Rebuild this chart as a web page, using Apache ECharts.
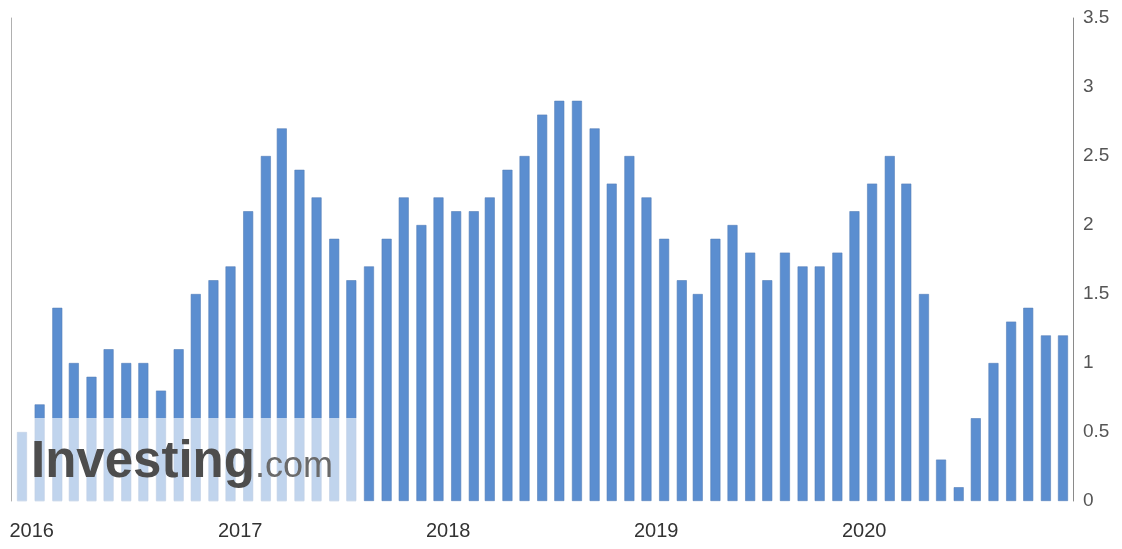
<!DOCTYPE html>
<html>
<head>
<meta charset="utf-8">
<script src="https://cdn.jsdelivr.net/npm/echarts@6/dist/echarts.min.js"></script>
<style>
html,body{margin:0;padding:0;background:#fff;}
#c{width:1122px;height:549px;}
</style>
</head>
<body>
<div id="c"></div>
<script>
// release months (one bar per month)
const months = [
  '2015-12',
  '2016-01','2016-02','2016-03','2016-04','2016-05','2016-06','2016-07','2016-08','2016-09','2016-10','2016-11','2016-12',
  '2017-01','2017-02','2017-03','2017-04','2017-05','2017-06','2017-07','2017-08','2017-09','2017-10','2017-11','2017-12',
  '2018-01','2018-02','2018-03','2018-04','2018-05','2018-06','2018-07','2018-08','2018-09','2018-10','2018-11','2018-12',
  '2019-01','2019-02','2019-03','2019-04','2019-05','2019-06','2019-07','2019-08','2019-09','2019-10','2019-11','2019-12',
  '2020-01','2020-02','2020-03','2020-04','2020-05','2020-06','2020-07','2020-08','2020-09','2020-10','2020-11','2020-12'
];
const values = [
  0.5,
  0.7,1.4,1.0,0.9,1.1,1.0,1.0,0.8,1.1,1.5,1.6,1.7,
  2.1,2.5,2.7,2.4,2.2,1.9,1.6,1.7,1.9,2.2,2.0,2.2,
  2.1,2.1,2.2,2.4,2.5,2.8,2.9,2.9,2.7,2.3,2.5,2.2,
  1.9,1.6,1.5,1.9,2.0,1.8,1.6,1.8,1.7,1.7,1.8,2.1,
  2.3,2.5,2.3,1.5,0.3,0.1,0.6,1.0,1.3,1.4,1.2,1.2
];
const yTicks = [0, 0.5, 1, 1.5, 2, 2.5, 3, 3.5];
const yearLabels = ['2016','2017','2018','2019','2020'];

const seriesData = months.map((m, i) => [m + '-15', values[i]]);

const chart = echarts.init(document.getElementById('c'), null, {renderer: 'canvas'});
chart.setOption({
  animation: false,
  backgroundColor: '#fff',
  grid: {left: 11, right: 49, top: 18, bottom: 48, containLabel: false},
  xAxis: {
    type: 'time',
    min: new Date(2015, 11, 4, 12).getTime(),
    max: new Date(2020, 11, 23, 19).getTime(),
    axisLine: {show: false},
    axisTick: {show: false},
    splitLine: {show: false},
    axisLabel: {
      showMinLabel: false,
      showMaxLabel: false,
      margin: 20,
      color: '#333',
      fontSize: 20,
      fontFamily: 'Liberation Sans, Arial, sans-serif',
      hideOverlap: false,
      formatter: function (val) {
        const d = new Date(val);
        const y = String(d.getFullYear());
        if (d.getMonth() === 0 && d.getDate() === 1 && yearLabels.indexOf(y) >= 0) return y;
        return '';
      }
    }
  },
  yAxis: [{
    type: 'value',
    position: 'right',
    min: yTicks[0],
    max: yTicks[yTicks.length - 1],
    interval: 0.5,
    axisLine: {show: true, lineStyle: {color: '#8a8a8a', width: 1}},
    axisTick: {show: false},
    splitLine: {show: false},
    axisLabel: {
      margin: 10,
      color: '#555',
      fontSize: 19,
      fontFamily: 'Liberation Sans, Arial, sans-serif',
      formatter: v => String(v)
    }
  }, {
    type: 'value',
    position: 'left',
    min: 0, max: 3.5,
    axisLine: {show: true, lineStyle: {color: '#b0b0b0', width: 1}},
    axisTick: {show: false},
    axisLabel: {show: false},
    splitLine: {show: false}
  }],
  series: [{
    type: 'bar',
    yAxisIndex: 0,
    barWidth: 10,
    data: seriesData,
    itemStyle: {color: '#5b8ed0', borderColor: '#5580b8', borderWidth: 0.6}
  }],
  graphic: [
    {type: 'rect', z: 100, shape: {x: 14, y: 418, width: 348, height: 83},
     style: {fill: 'rgba(255,255,255,0.62)'}},
    {type: 'text', z: 101, style: {x: 31, y: 488, text: 'Investing', font: 'bold 51px "Liberation Sans", Arial, sans-serif',
      fill: '#4d4d4d', textVerticalAlign: 'bottom'}},
    {type: 'text', z: 101, style: {x: 255, y: 485, text: '.com', font: '36px "Liberation Sans", Arial, sans-serif',
      fill: '#6a6a6a', textVerticalAlign: 'bottom'}}
  ]
});
</script>
</body>
</html>
